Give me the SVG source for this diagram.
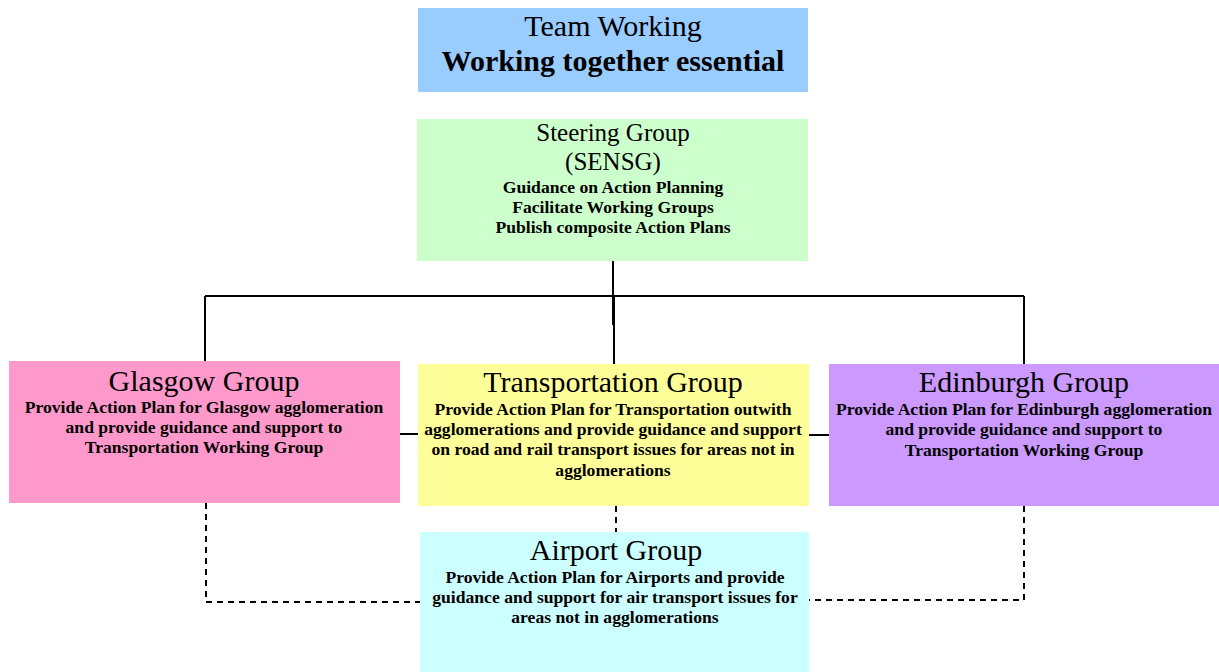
<svg xmlns="http://www.w3.org/2000/svg" width="1219" height="672" viewBox="0 0 1219 672">
<style>
text{font-family:"Liberation Serif","Times New Roman",serif;fill:#000;text-anchor:middle}
.t{font-size:30px}
.s{font-size:25px}
.b{font-size:17.6px;font-weight:bold}
.tb{font-size:30px;font-weight:bold}
.ln{stroke:#000;stroke-width:2;fill:none}
.dl{stroke:#000;stroke-width:2;fill:none;stroke-dasharray:6,5}
</style>
<rect width="1219" height="672" fill="#fff"/>
<g id="connectors">
<path class="ln" d="M613,261V325M614,296V364M205,296H1024M205,296V361M1024,296V364M400,434H418M809,435H829"/>
<path class="dl" d="M206,503V602H420M616,506V532M1024,506V600H809"/>
</g>
<g id="team">
<rect x="418" y="8" width="390" height="84" fill="#99CCFF"/>
<text class="t" x="613" y="36">Team Working</text>
<text class="tb" x="613" y="71">Working together essential</text>
</g>
<g id="steering">
<rect x="417" y="119" width="391" height="142" fill="#CCFFCC"/>
<text class="s" x="613" y="141">Steering Group</text>
<text class="s" x="613" y="170">(SENSG)</text>
<text class="b" x="613" y="193">Guidance on Action Planning</text>
<text class="b" x="613" y="213">Facilitate Working Groups</text>
<text class="b" x="613" y="233">Publish composite Action Plans</text>
</g>
<g id="glasgow">
<rect x="9" y="361" width="391" height="142" fill="#FF99CC"/>
<text class="t" x="204" y="391">Glasgow Group</text>
<text class="b" x="204" y="413">Provide Action Plan for Glasgow agglomeration</text>
<text class="b" x="204" y="433">and provide guidance and support to</text>
<text class="b" x="204" y="453">Transportation Working Group</text>
</g>
<g id="transportation">
<rect x="418" y="364" width="391" height="142" fill="#FFFF99"/>
<text class="t" x="613" y="392">Transportation Group</text>
<text class="b" x="613" y="415">Provide Action Plan for Transportation outwith</text>
<text class="b" x="613" y="435">agglomerations and provide guidance and support</text>
<text class="b" x="613" y="455">on road and rail transport issues for areas not in</text>
<text class="b" x="613" y="476">agglomerations</text>
</g>
<g id="edinburgh">
<rect x="829" y="364" width="390" height="142" fill="#CC99FF"/>
<text class="t" x="1024" y="392">Edinburgh Group</text>
<text class="b" x="1024" y="415">Provide Action Plan for Edinburgh agglomeration</text>
<text class="b" x="1024" y="435">and provide guidance and support to</text>
<text class="b" x="1024" y="456">Transportation Working Group</text>
</g>
<g id="airport">
<rect x="420" y="532" width="389" height="140" fill="#CCFFFF"/>
<text class="t" x="616" y="560">Airport Group</text>
<text class="b" x="615" y="583">Provide Action Plan for Airports and provide</text>
<text class="b" x="615" y="603">guidance and support for air transport issues for</text>
<text class="b" x="615" y="623">areas not in agglomerations</text>
</g>
</svg>
